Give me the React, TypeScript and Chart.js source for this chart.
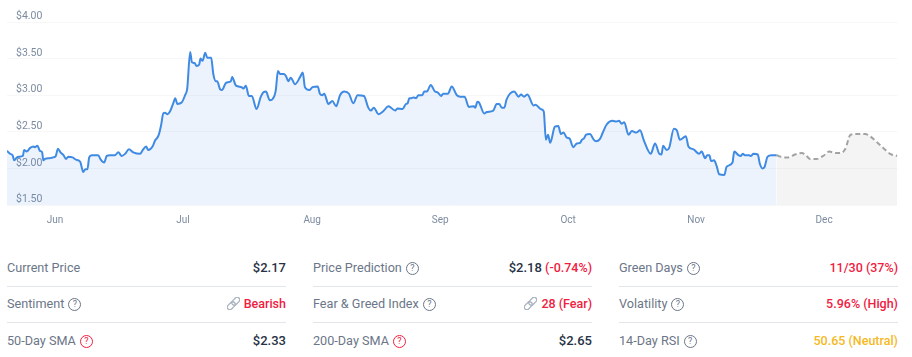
import React, { useEffect, useRef } from "react";
import { Chart, registerables } from "chart.js";

Chart.register(...registerables);

const priceDays = [0,0.7,1.3,1.7,2.3,2.7,3.7,4,4.6,5.4,6.2,6.5,7.1,7.7,8.2,8.5,8.9,10,10.8,11.4,11.9,12.5,13.2,13.8,14.3,15.3,16.1,17.1,17.4,17.8,18.3,18.8,19.2,19.8,21.3,21.9,22.7,23.3,24.1,25.2,26,26.8,27.6,28.5,29.5,31.1,31.7,32.5,33,34,34.6,35.4,36,36.5,36.9,37.5,38.1,38.9,39.3,39.8,40.8,41.6,42.1,42.8,43.2,43.8,44.3,44.9,45.2,45.7,46.3,46.8,47.7,48.2,48.8,49.1,49.8,50.2,51.2,52.3,52.6,53.5,54.8,55.2,55.8,56.5,57.2,58.3,59.3,59.9,60.5,61.4,62.4,62.8,63.3,63.8,64.7,65.2,65.7,66.3,67.3,68.5,
69.1,69.6,70.6,71.4,72.6,73.1,73.7,74.1,75.1,76,76.9,77.8,78.8,79.9,80.9,81.9,83.4,84.4,85,85.7,86.8,87.9,89.1,90.7,91.2,92.4,93.2,93.6,94,94.5,94.9,95.6,96.1,97,97.5,98.1,99,100,100.6,101.4,101.9,103,103.9,105.1,105.9,106.9,107.9,109.1,109.4,109.9,110.3,111.5,112.1,113.6,114.4,115,115.6,116.2,116.7,118.5,119.5,120.1,120.8,121.6,123,123.5,124.7,125.4,125.9,126.4,126.9,128,128.8,129.4,130,130.8,131.4,132.3,133.1,133.9,134.3,134.8,135.3,136.2,137,137.6,138.5,
139.2,140.1,141.5,142.4,143,143.6,144.2,145.2,146,147,147.9,148.8,150.4,151.4,152.4,152.9,153.3,154.1,154.7,155.8,156.5,157.2,158.6,159.2,160.4,161.7,162.3,163.1,163.6,164.1,164.5,165.2,165.8,166.4,167.6,168.1,169.5,169.9,170.9,171.4,171.9,172.4,173.4,173.8,174.4,175.4,175.9,176.5,176.9,177.7,178.6,179.8];

const priceValues = [2.24,2.2,2.18,2.11,2.15,2.16,2.17,2.25,2.23,2.28,2.3,2.29,2.31,2.24,2.22,2.11,2.13,2.14,2.15,2.17,2.27,2.22,2.18,2.13,2.16,2.15,2.12,2.09,2.03,1.95,1.99,1.99,2.15,2.18,2.18,2.12,2.08,2.17,2.18,2.18,2.22,2.17,2.2,2.26,2.22,2.2,2.25,2.3,2.25,2.3,2.38,2.45,2.59,2.75,2.76,2.74,2.78,2.9,2.96,2.88,2.9,3,3.09,3.59,3.45,3.44,3.4,3.42,3.5,3.47,3.58,3.51,3.51,3.29,3.19,3.19,3.08,3.07,3.17,3.19,3.25,3.13,3.11,3.09,3.13,2.99,2.99,2.81,2.98,3.04,3.05,2.93,2.98,3.07,3.33,3.29,3.29,3.26,3.19,3.24,3.15,3.25,
3.31,3.11,3.07,3.11,3.12,3.02,3,3.02,2.88,2.92,2.85,3,3.05,3.02,2.89,3,2.99,2.83,2.79,2.83,2.74,2.78,2.85,2.79,2.82,2.81,2.88,2.89,2.96,2.96,2.97,2.96,3,3,3.05,3.05,3.14,3.05,3.04,2.99,3.02,3.02,3.12,3,2.98,2.98,2.84,2.85,2.83,2.91,2.9,2.75,2.77,2.79,2.88,2.88,2.83,2.83,2.94,3.05,2.98,3.01,2.98,3.01,2.86,2.87,2.81,2.78,2.39,2.46,2.35,2.57,2.58,2.47,2.49,2.42,2.41,2.29,2.34,2.35,2.39,2.41,2.46,2.47,2.4,2.37,2.4,
2.49,2.6,2.65,2.64,2.65,2.61,2.63,2.46,2.51,2.49,2.52,2.38,2.2,2.34,2.2,2.19,2.31,2.25,2.28,2.54,2.52,2.39,2.44,2.3,2.26,2.2,2.23,2.14,2.18,2.18,2.1,2.11,2.03,1.92,1.91,2.02,2.08,2.23,2.18,2.17,2.2,2.18,2.18,2.17,2.2,2.19,2.06,2,2.01,2.16,2.18,2.18];

const forecastDays = [179.8,181.4,182.5,184.1,185.7,186.8,187.6,189.2,190.7,192.1,193.5,194.8,195.8,197.1,198.9,200.5,201.6,203.2,204.7,206.3,208];
const forecastValues = [2.18,2.15,2.15,2.19,2.21,2.17,2.13,2.13,2.17,2.23,2.21,2.21,2.26,2.46,2.47,2.47,2.44,2.36,2.28,2.2,2.17];

const monthLabels = ["Jun","Jul","Aug","Sep","Oct","Nov","Dec"];
const monthDays = [11.2,41.1,71.3,101.2,131.1,161,190.9];
const priceTicks = [1.5,2,2.5,3,3.5,4];

const RED = "#f0203f";
const DARK = "#273246";
const YELLOW = "#f5b91e";

type Part = [string, string, number];
type Row = { label: string; help?: string; link?: boolean; parts: Part[] };

const column1: Row[] = [
  { label: "Current Price", parts: [["$2.17", DARK, 500]] },
  { label: "Sentiment", help: "#6b7688", link: true, parts: [["Bearish", RED, 500]] },
  { label: "50-Day SMA", help: RED, parts: [["$2.33", DARK, 500]] },
];
const column2: Row[] = [
  { label: "Price Prediction", help: "#6b7688", parts: [["$2.18 ", DARK, 500], ["(-0.74%)", RED, 500]] },
  { label: "Fear & Greed Index", help: "#6b7688", link: true, parts: [["28 (Fear)", RED, 500]] },
  { label: "200-Day SMA", help: RED, parts: [["$2.65", DARK, 500]] },
];
const column3: Row[] = [
  { label: "Green Days", help: "#6b7688", parts: [["11/30 (37%)", RED, 500]] },
  { label: "Volatility", help: "#6b7688", parts: [["5.96% (High)", RED, 500]] },
  { label: "14-Day RSI", help: "#6b7688", parts: [["50.65 (Neutral)", YELLOW, 500]] },
];
const columns = [column1, column2, column3];
const columnLefts = [7, 313, 619];

function Help({ color }: { color: string }) {
  return (
    <span style={{ display: "inline-block", width: 11, height: 11, lineHeight: "11px", border: `1px solid ${color}`, borderRadius: "50%", color, fontSize: 9, textAlign: "center", marginLeft: 4, verticalAlign: 1 }}>?</span>
  );
}

function LinkIcon() {
  return (
    <svg width="13" height="13" viewBox="0 0 13 13" style={{ marginRight: 4, verticalAlign: -2 }}>
      <g fill="none" stroke="#a9b2bf" strokeWidth="1.3" transform="rotate(-45 6.5 6.5)">
        <rect x="-1.2" y="4" width="9" height="5" rx="2.5" />
        <rect x="5.2" y="4" width="9" height="5" rx="2.5" />
      </g>
    </svg>
  );
}

export default function App() {
  const ref = useRef<HTMLCanvasElement>(null);
  useEffect(() => {
    const chart = new Chart(ref.current!, {
      type: "line",
      data: {
        datasets: [
          {
            data: priceDays.map((x, i) => ({ x, y: priceValues[i] })),
            borderColor: "#3f8ae3",
            borderWidth: 2,
            backgroundColor: "rgba(50,125,230,0.095)",
            fill: "start",
            pointRadius: 0,
            cubicInterpolationMode: "monotone",
          },
          {
            data: forecastDays.map((x, i) => ({ x, y: forecastValues[i] })),
            borderColor: "#a3a3a3",
            borderWidth: 2,
            borderDash: [5, 3],
            backgroundColor: "rgba(0,0,0,0.042)",
            fill: "start",
            pointRadius: 0,
            cubicInterpolationMode: "monotone",
          },
        ],
      },
      options: {
        animation: false,
        responsive: false,
        layout: { padding: { left: 7, right: 14.7, top: 22, bottom: 0 } },
        plugins: { legend: { display: false }, tooltip: { enabled: false } },
        scales: {
          x: {
            type: "linear",
            min: 0,
            max: 208,
            afterBuildTicks: (s: any) => { s.ticks = monthDays.map((value) => ({ value })); },
            afterFit: (s: any) => { s.height = 25; },
            grid: { display: false },
            border: { display: false },
            ticks: {
              maxRotation: 0,
              autoSkip: false,
              padding: 1,
              color: "#7c8ba0",
              font: { family: "Roboto", size: 10 },
              callback: (v: any) => monthLabels[monthDays.indexOf(Number(v))] ?? "",
            },
          },
          y: {
            min: 1.5,
            max: 4,
            afterBuildTicks: (s: any) => { s.ticks = priceTicks.map((value) => ({ value })); },
            afterFit: (s: any) => { s.width = 0; },
            grid: { color: "rgba(0,0,0,0.03)", drawTicks: false },
            border: { display: false },
            ticks: {
              mirror: true,
              padding: 9,
              labelOffset: -5.5,
              color: "#7c8ba0",
              font: { family: "Roboto", size: 10.5 },
              callback: (v: any) => "$" + Number(v).toFixed(2),
            },
          },
        },
      },
    } as any);
    return () => chart.destroy();
  }, []);

  return (
    <div style={{ position: "absolute", left: 0, top: 0, width: 912, height: 357, overflow: "hidden", background: "#fff", fontFamily: "Roboto, sans-serif", fontSize: 13 }}>
      <canvas ref={ref} width={912} height={230} style={{ position: "absolute", left: 0, top: 0, display: "block", width: 912, height: 230 }} />
      {columns.map((rows, c) =>
        rows.map((row, r) => (
          <div key={`${c}-${r}`} style={{ position: "absolute", left: columnLefts[c], top: 250 + r * 36.3, width: 279, height: 36, lineHeight: "36px", display: "flex", justifyContent: "space-between", borderBottom: r < 2 ? "1px solid #e2e5e9" : "none", boxSizing: "content-box", color: "#6b7688", whiteSpace: "nowrap" }}>
            <span><span style={{ fontSize: 12.65 }}>{row.label}</span>{row.help && <Help color={row.help} />}</span>
            <span>
              {row.link && <LinkIcon />}
              {row.parts.map(([t, col, w], i) => <span key={i} style={{ color: col, fontWeight: w, fontSize: col === DARK ? 13 : 12.5, whiteSpace: "pre" }}>{t}</span>)}
            </span>
          </div>
        ))
      )}
    </div>
  );
}
